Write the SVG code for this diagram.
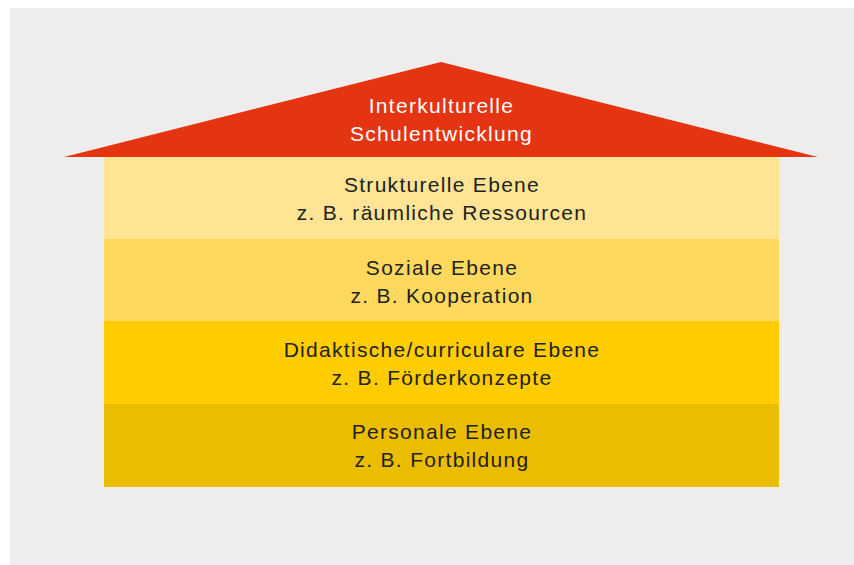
<svg xmlns="http://www.w3.org/2000/svg" width="854" height="565" viewBox="0 0 854 565">
<style>
.t{font-family:"Liberation Sans",Arial,sans-serif;font-size:21px;letter-spacing:1.3px;fill:#222222;text-anchor:middle}
.w{fill:#ffffff}
</style>
<rect x="0" y="0" width="854" height="565" fill="#ffffff"/>
<rect x="10" y="8" width="844" height="557" fill="#eeedeb"/>
<g id="roof">
<polygon points="64,157 441,62 818,157" fill="#e53412"/>
<text class="t w" x="441.5" y="113">Interkulturelle</text>
<text class="t w" x="441.5" y="141">Schulentwicklung</text>
</g>
<g id="strukturelle">
<rect x="104" y="157" width="675" height="82" fill="#fee493"/>
<text class="t" x="442" y="192">Strukturelle Ebene</text>
<text class="t" x="442" y="220">z. B. räumliche Ressourcen</text>
</g>
<g id="soziale">
<rect x="104" y="239" width="675" height="82" fill="#ffd95e"/>
<text class="t" x="442" y="275">Soziale Ebene</text>
<text class="t" x="442" y="303">z. B. Kooperation</text>
</g>
<g id="didaktische">
<rect x="104" y="321" width="675" height="83" fill="#ffcc00"/>
<text class="t" x="442" y="357">Didaktische/curriculare Ebene</text>
<text class="t" x="442" y="385">z. B. Förderkonzepte</text>
</g>
<g id="personale">
<rect x="104" y="404" width="675" height="83" fill="#ebbd00"/>
<text class="t" x="442" y="439">Personale Ebene</text>
<text class="t" x="442" y="467">z. B. Fortbildung</text>
</g>
<g id="connectors"/>
</svg>
